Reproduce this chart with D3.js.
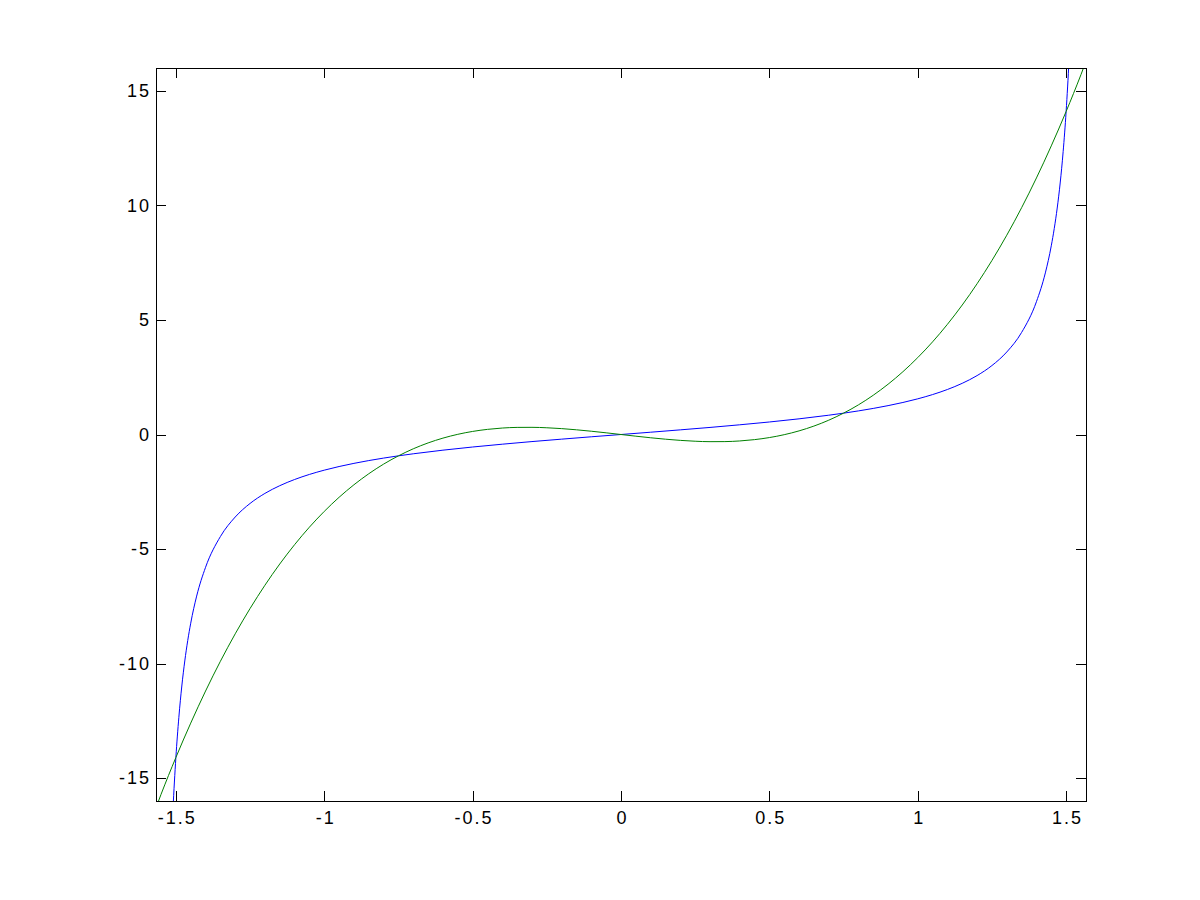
<!DOCTYPE html>
<html>
<head>
<meta charset="utf-8">
<script src="https://cdn.jsdelivr.net/npm/d3@7"></script>
<style>
  html, body { margin: 0; padding: 0; background: #fff; }
  svg { display: block; }
  text { font-family: "Liberation Sans", Arial, Helvetica, sans-serif; font-size: 18px; fill: #000; }
</style>
</head>
<body>
<svg id="chart" width="1200" height="900"></svg>
<script>
// ---- data ----
const xTicks = [-1.5, -1, -0.5, 0, 0.5, 1, 1.5];
const xTickLabels = ["-1.5", "-1", "-0.5", "0", "0.5", "1", "1.5"];
const yTicks = [-15, -10, -5, 0, 5, 10, 15];
const yTickLabels = ["-15", "-10", "-5", "0", "5", "10", "15"];

// blue series
const blueX = [-1.53, -1.52, -1.51, -1.50, -1.49, -1.48, -1.47, -1.46, -1.45, -1.43, -1.40, -1.35, -1.30, -1.25, -1.20, -1.15, -1.10, -1.05, -1.00, -0.90, -0.80, -0.70, -0.60, -0.50, -0.40, -0.30, -0.20, -0.10, 0,
               0.10, 0.20, 0.30, 0.40, 0.50, 0.60, 0.70, 0.80, 0.90, 1.00, 1.05, 1.10, 1.15, 1.20, 1.25, 1.30, 1.35, 1.40, 1.43, 1.45, 1.46, 1.47, 1.48, 1.49, 1.50, 1.51, 1.52, 1.53];
const blueY = [-24.50, -19.67, -16.43, -14.10, -12.35, -10.98, -9.887, -8.989, -8.238, -7.055, -5.798, -4.455, -3.602, -3.010, -2.572, -2.235, -1.965, -1.743, -1.557, -1.260, -1.030, -0.842, -0.684, -0.546, -0.423, -0.309, -0.203, -0.100, 0,
               0.100, 0.203, 0.309, 0.423, 0.546, 0.684, 0.842, 1.030, 1.260, 1.557, 1.743, 1.965, 2.235, 2.572, 3.010, 3.602, 4.455, 5.798, 7.055, 8.238, 8.989, 9.887, 10.98, 12.35, 14.10, 16.43, 19.67, 24.50];

// green series
const greenX = [-1.567, -1.55, -1.50, -1.45, -1.40, -1.35, -1.30, -1.25, -1.20, -1.15, -1.10, -1.05, -1.00, -0.95, -0.90, -0.85, -0.80, -0.75, -0.70, -0.65, -0.60, -0.55, -0.50, -0.45, -0.40, -0.35, -0.30, -0.25, -0.20, -0.15, -0.10, -0.05, 0,
                0.05, 0.10, 0.15, 0.20, 0.25, 0.30, 0.35, 0.40, 0.45, 0.50, 0.55, 0.60, 0.65, 0.70, 0.75, 0.80, 0.85, 0.90, 0.95, 1.00, 1.05, 1.10, 1.15, 1.20, 1.25, 1.30, 1.35, 1.40, 1.45, 1.50, 1.55, 1.567];
const greenY = [-16.29, -15.71, -14.10, -12.60, -11.20, -9.900, -8.701, -7.596, -6.582, -5.654, -4.810, -4.045, -3.357, -2.741, -2.195, -1.713, -1.293, -0.932, -0.624, -0.367, -0.158, 0.008, 0.134, 0.224, 0.282, 0.310, 0.313, 0.294, 0.257, 0.205, 0.143, 0.073, 0,
                -0.073, -0.143, -0.205, -0.257, -0.294, -0.313, -0.310, -0.282, -0.224, -0.134, -0.008, 0.158, 0.367, 0.624, 0.932, 1.293, 1.713, 2.195, 2.741, 3.357, 4.045, 4.810, 5.654, 6.582, 7.596, 8.701, 9.900, 11.20, 12.60, 14.10, 15.71, 16.29];

// ---- layout ----
const mLeft = 156, mRight = 1086, mTop = 68, mBottom = 801;
const svg = d3.select("#chart");

const x = d3.scaleLinear().domain([-1.567, 1.567]).range([mLeft, mRight]);
const y = d3.scaleLinear().domain([-16, 16]).range([mBottom, mTop]);

svg.append("defs").append("clipPath").attr("id", "clip")
  .append("rect").attr("x", mLeft).attr("y", mTop).attr("width", mRight - mLeft).attr("height", mBottom - mTop);

const line = d3.line().x(d => x(d[0])).y(d => y(d[1])).curve(d3.curveMonotoneX);

const g = svg.append("g").attr("clip-path", "url(#clip)");
g.append("path")
  .datum(blueX.map((v, i) => [v, blueY[i]]))
  .attr("d", line).attr("fill", "none").attr("stroke", "#0000ff").attr("stroke-width", 1);
g.append("path")
  .datum(greenX.map((v, i) => [v, greenY[i]]))
  .attr("d", line).attr("fill", "none").attr("stroke", "#008000").attr("stroke-width", 1);

// axes (ticks inside, on all four sides)
const tickLen = 10;
const axB = svg.append("g").attr("transform", `translate(0,${mBottom})`)
  .call(d3.axisBottom(x).tickValues(xTicks).tickSize(-tickLen).tickPadding(10)
    .tickFormat((d, i) => xTickLabels[i]));
const axT = svg.append("g").attr("transform", `translate(0,${mTop})`)
  .call(d3.axisTop(x).tickValues(xTicks).tickSize(-tickLen).tickFormat(""));
const axL = svg.append("g").attr("transform", `translate(${mLeft},0)`)
  .call(d3.axisLeft(y).tickValues(yTicks).tickSize(-tickLen).tickPadding(5)
    .tickFormat((d, i) => yTickLabels[i]));
const axR = svg.append("g").attr("transform", `translate(${mRight},0)`)
  .call(d3.axisRight(y).tickValues(yTicks).tickSize(-tickLen).tickFormat(""));

[axB, axT, axL, axR].forEach(a => {
  a.select(".domain").remove();
  a.selectAll("line").attr("stroke", "#000").attr("shape-rendering", "crispEdges");
  a.selectAll("text").attr("font-size", 18).attr("letter-spacing", "2px")
    .attr("font-family", "Liberation Sans, Arial, sans-serif").attr("fill", "#000");
});
axB.selectAll("text").attr("dx", "1px");

svg.append("rect").attr("x", mLeft).attr("y", mTop).attr("width", mRight - mLeft).attr("height", mBottom - mTop)
  .attr("fill", "none").attr("stroke", "#000").attr("stroke-width", 1).attr("shape-rendering", "crispEdges");
</script>
</body>
</html>
